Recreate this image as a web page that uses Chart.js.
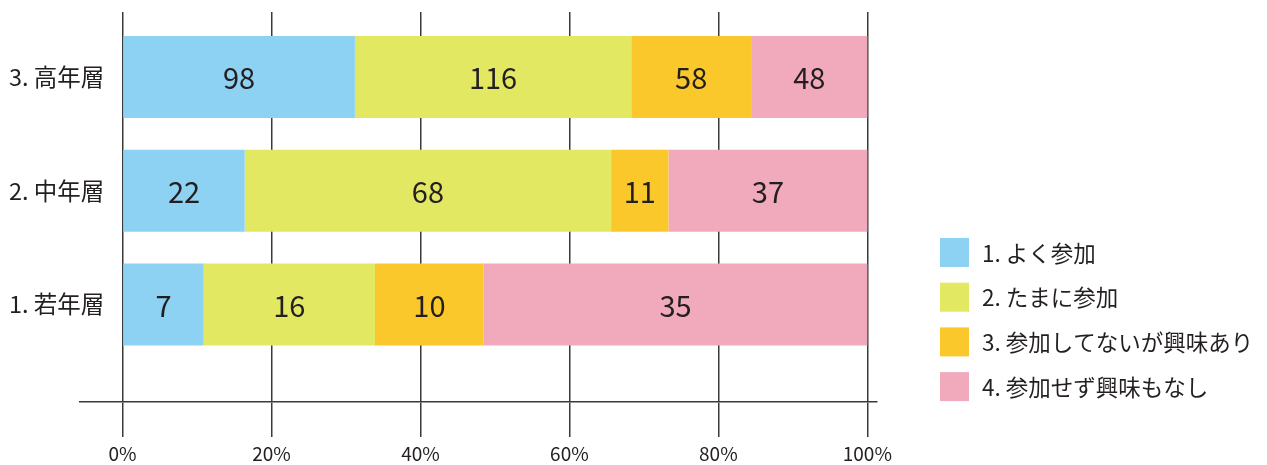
<!DOCTYPE html>
<html>
<head>
<meta charset="utf-8">
<script src="https://cdn.jsdelivr.net/npm/chart.js@4/dist/chart.umd.min.js"></script>
<style>
  html, body { margin: 0; padding: 0; background: #ffffff; }
  #wrap { width: 1267px; height: 465px; }
</style>
</head>
<body>
<div id="wrap"><canvas id="c" width="1267" height="465"></canvas></div>
<script>
// ---- data ----
const categories = ['1. 若年層', '2. 中年層', '3. 高年層'];
const seriesNames = ['1. よく参加', '2. たまに参加', '3. 参加してないが興味あり', '4. 参加せず興味もなし'];
// counts printed on the bars
const yokuSanka   = [7, 22, 98];
const tamaniSanka = [16, 68, 116];
const kyoumiAri   = [10, 11, 58];
const kyoumiNashi = [35, 37, 48];
// bar lengths (% of each row)
const yokuSankaPct   = [10.9, 16.4, 31.2];
const tamaniSankaPct = [23.0, 49.2, 37.1];
const kyoumiAriPct   = [14.6, 7.7, 16.1];
const kyoumiNashiPct = [51.5, 26.7, 15.6];
const tickValues  = [0, 20, 40, 60, 80, 100];
const tickLabels  = ['0%', '20%', '40%', '60%', '80%', '100%'];
const seriesColors = ['#8dd1f3', '#e3e862', '#fbc82b', '#f1a9bc'];

const counts = [yokuSanka, tamaniSanka, kyoumiAri, kyoumiNashi];
const pcts = [yokuSankaPct, tamaniSankaPct, kyoumiAriPct, kyoumiNashiPct];

const datasets = pcts.map((arr, k) => ({
  label: seriesNames[k],
  backgroundColor: seriesColors[k],
  borderWidth: 0,
  counts: counts[k],
  data: arr.map((v, i) => ({ x: v, y: i + 1 }))
}));

const TEXT = '#231f20';
const LINE = '#3a3a3a';
const FONT = '"Noto Sans CJK JP", "Noto Sans", sans-serif';

const valueLabels = {
  id: 'valueLabels',
  afterDatasetsDraw(chart) {
    const ctx = chart.ctx;
    ctx.save();
    ctx.font = '29px ' + FONT;
    ctx.fillStyle = TEXT;
    ctx.textAlign = 'center';
    ctx.textBaseline = 'middle';
    chart.data.datasets.forEach((ds, di) => {
      chart.getDatasetMeta(di).data.forEach((el, i) => {
        const p = el.getCenterPoint();
        ctx.fillText(String(ds.counts[i]), p.x, p.y + 1);
      });
    });
    ctx.restore();
  }
};

const sideLegend = {
  id: 'sideLegend',
  afterDraw(chart) {
    const ctx = chart.ctx;
    ctx.save();
    ctx.font = '22.5px ' + FONT;
    ctx.textAlign = 'left';
    ctx.textBaseline = 'middle';
    chart.data.datasets.forEach((ds, i) => {
      const y0 = 238 + i * 44.7;
      ctx.fillStyle = ds.backgroundColor;
      ctx.fillRect(940, y0, 29, 29);
      ctx.fillStyle = TEXT;
      ctx.fillText(ds.label, 982, y0 + 15);
    });
    ctx.restore();
  }
};

new Chart(document.getElementById('c'), {
  type: 'bar',
  data: { datasets },
  plugins: [valueLabels, sideLegend],
  options: {
    indexAxis: 'y',
    responsive: false,
    animation: false,
    layout: { padding: { top: 12, right: 390, bottom: 0, left: 0 } },
    datasets: { bar: { categoryPercentage: 1, barPercentage: 0.72 } },
    plugins: { legend: { display: false }, tooltip: { enabled: false } },
    scales: {
      x: {
        type: 'linear',
        stacked: true,
        min: -5.71,
        max: 101.3,
        afterBuildTicks: s => { s.ticks = tickValues.map(v => ({ value: v })); },
        afterFit: s => { s.height = 63; },
        grid: { color: LINE, lineWidth: 1.5, tickLength: 35, drawTicks: true },
        border: { display: true, color: LINE, width: 1.5 },
        ticks: {
          padding: 5,
          color: TEXT,
          font: { family: FONT, size: 19 },
          callback: v => tickLabels[tickValues.indexOf(v)]
        }
      },
      y: {
        type: 'linear',
        stacked: true,
        offset: false,
        min: 0.143,
        max: 3.571,
        afterBuildTicks: s => { s.ticks = categories.map((_, i) => ({ value: i + 1 })); },
        afterFit: s => { s.width = 80; },
        grid: { display: false, drawTicks: false, offset: false },
        border: { display: false },
        ticks: {
          mirror: true,
          crossAlign: 'near',
          padding: -71,
          color: TEXT,
          font: { family: FONT, size: 23.5 },
          callback: v => categories[v - 1]
        }
      }
    }
  }
});
</script>
</body>
</html>
